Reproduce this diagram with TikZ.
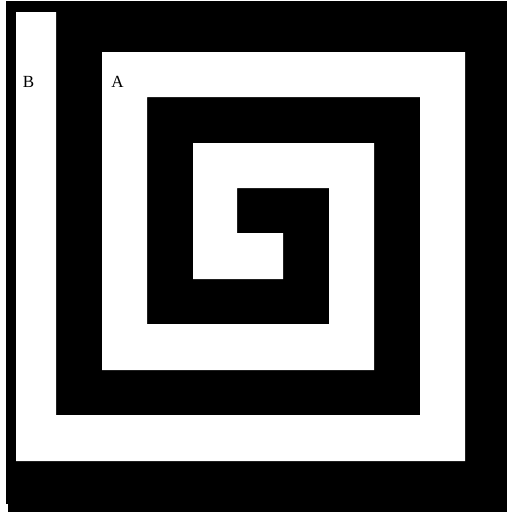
\documentclass[tikz,border=0pt]{standalone}
\usepackage{fontspec}
\setmainfont{Liberation Serif}
\begin{document}
\begin{tikzpicture}[x=1pt,y=-1pt,
  wall/.style={fill=black,draw=none},
  lane/.style={fill=white,draw=none},
  lbl/.style={inner sep=0pt,font=\fontsize{17}{17}\selectfont}]
\useasboundingbox (0,0) rectangle (507,512);
\fill[white] (0,0) rectangle (507,512);
% outer black block
\path[wall] (6,1) rectangle (507,504);
\path[wall] (8,504) rectangle (507,512);
% white spiral lane
\path[lane] (16,12) rectangle (56,461)
  (16,415) rectangle (465,461)
  (420,52) rectangle (465,461)
  (102,52) rectangle (465,97)
  (102,52) rectangle (147,370)
  (102,324) rectangle (374,370)
  (329,143) rectangle (374,370)
  (193,143) rectangle (374,188)
  (193,143) rectangle (237,279)
  (193,233) rectangle (283,279);
\node[lbl] (B) at (28.5,81.5) {B};
\node[lbl] (A) at (117.5,81.5) {A};
\end{tikzpicture}
\end{document}
